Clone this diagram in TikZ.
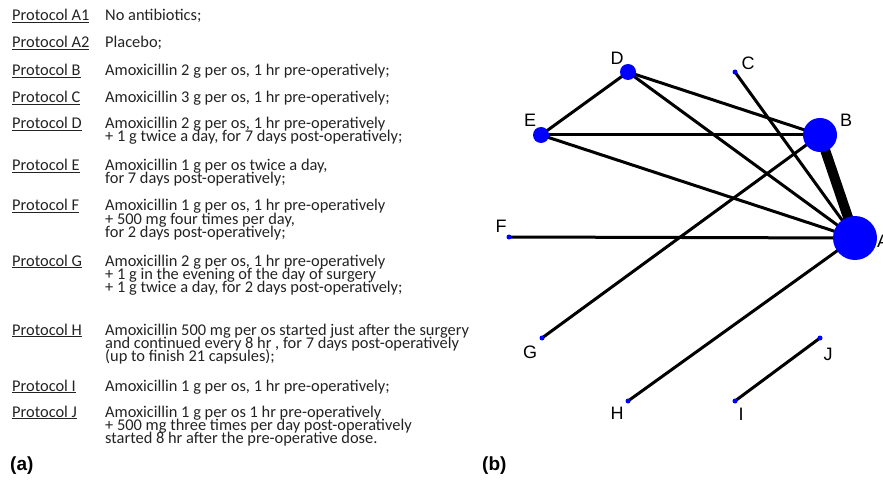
\documentclass[tikz,border=0pt]{standalone}
\usepackage{fontspec}
\setmainfont{Carlito}
\newfontfamily\arialf{Liberation Sans}
\definecolor{nodeblue}{RGB}{0,0,255}
\definecolor{txt}{RGB}{35,35,35}
\begin{document}
\begin{tikzpicture}[x=1pt,y=-1pt,
  prot/.style={anchor=base west,inner sep=0pt,text=txt,font=\fontsize{16.4}{18}\selectfont},
  desc/.style={anchor=base west,inner sep=0pt,text=txt,font=\fontsize{16.4}{18}\selectfont},
  glab/.style={inner sep=0pt,font=\arialf\fontsize{18}{20}\selectfont},
  panel/.style={anchor=base west,inner sep=0pt,font=\arialf\bfseries\fontsize{19}{21}\selectfont},
  vert/.style={circle,fill=nodeblue,inner sep=0pt},
  edge/.style={line width=3pt},
  bigedge/.style={line width=10pt}]
\useasboundingbox (0,0) rectangle (883,481);
% ---------- panel (a) ----------
\node[prot] (pA1) at (12,21) {\underline{Protocol A1}};
\node[desc] (dA1) at (105,21) {No antibiotics;};
\node[prot] (pA2) at (12,48) {\underline{Protocol A2}};
\node[desc] (dA2) at (105,48) {Placebo;};
\node[prot] (pB) at (12,76) {\underline{Protocol B}};
\node[desc] (dB) at (105,76) {Amoxicillin 2 g per os, 1 hr pre-operatively;};
\node[prot] (pC) at (12,103) {\underline{Protocol C}};
\node[desc] (dC) at (105,103) {Amoxicillin 3 g per os, 1 hr pre-operatively;};
\node[prot] (pD) at (12,129) {\underline{Protocol D}};
\node[desc] (dD1) at (105,129) {Amoxicillin 2 g per os, 1 hr pre-operatively};
\node[desc] (dD2) at (105,142) {+ 1 g twice a day, for 7 days post-operatively;};
\node[prot] (pE) at (12,171) {\underline{Protocol E}};
\node[desc] (dE1) at (105,171) {Amoxicillin 1 g per os twice a day,};
\node[desc] (dE2) at (105,184) {for 7 days post-operatively;};
\node[prot] (pF) at (12,211) {\underline{Protocol F}};
\node[desc] (dF1) at (105,211) {Amoxicillin 1 g per os, 1 hr pre-operatively};
\node[desc] (dF2) at (105,224) {+ 500 mg four times per day,};
\node[desc] (dF3) at (105,237) {for 2 days post-operatively;};
\node[prot] (pG) at (12,266) {\underline{Protocol G}};
\node[desc] (dG1) at (105,266) {Amoxicillin 2 g per os, 1 hr pre-operatively};
\node[desc] (dG2) at (105,279) {+ 1 g in the evening of the day of surgery};
\node[desc] (dG3) at (105,292) {+ 1 g twice a day, for 2 days post-operatively;};
\node[prot] (pH) at (12,335) {\underline{Protocol H}};
\node[desc] (dH1) at (105,335) {Amoxicillin 500 mg per os started just after the surgery};
\node[desc] (dH2) at (105,348) {and continued every 8 hr , for 7 days post-operatively};
\node[desc] (dH3) at (105,361) {(up to finish 21 capsules);};
\node[prot] (pI) at (12,391) {\underline{Protocol I}};
\node[desc] (dI) at (105,391) {Amoxicillin 1 g per os, 1 hr pre-operatively;};
\node[prot] (pJ) at (12,417) {\underline{Protocol J}};
\node[desc] (dJ1) at (105,417) {Amoxicillin 1 g per os 1 hr pre-operatively};
\node[desc] (dJ2) at (105,430) {+ 500 mg three times per day post-operatively};
\node[desc] (dJ3) at (105,443) {started 8 hr after the pre-operative dose.};
\node[panel] (pa) at (10,470) {(a)};
\node[panel] (pb) at (482,470) {(b)};
% ---------- panel (b) ----------
\coordinate (A) at (855,238);
\coordinate (B) at (820,135);
\coordinate (C) at (735,72);
\coordinate (D) at (628,72);
\coordinate (E) at (541,135);
\coordinate (F) at (509,237);
\coordinate (G) at (542,338);
\coordinate (H) at (628,401);
\coordinate (I) at (735,401);
\coordinate (J) at (820,338);
\draw[bigedge] (B) -- (A);
\draw[edge] (D) -- (E);
\draw[edge] (D) -- (B);
\draw[edge] (D) -- (A);
\draw[edge] (C) -- (A);
\draw[edge] (E) -- (B);
\draw[edge] (E) -- (A);
\draw[edge] (F) -- (A);
\draw[edge] (G) -- (B);
\draw[edge] (H) -- (A);
\draw[edge] (I) -- (J);
\node[vert,minimum size=44pt] (nA) at (A) {};
\node[vert,minimum size=34pt] (nB) at (B) {};
\node[vert,minimum size=5pt] (nC) at (C) {};
\node[vert,minimum size=16pt] (nD) at (D) {};
\node[vert,minimum size=16pt] (nE) at (E) {};
\node[vert,minimum size=5pt] (nF) at (F) {};
\node[vert,minimum size=5pt] (nG) at (G) {};
\node[vert,minimum size=5pt] (nH) at (H) {};
\node[vert,minimum size=5pt] (nI) at (I) {};
\node[vert,minimum size=5pt] (nJ) at (J) {};
\node[glab] (lA) at (883,241) {A};
\node[glab] (lB) at (846,120) {B};
\node[glab] (lC) at (748,63) {C};
\node[glab] (lD) at (617,58) {D};
\node[glab] (lE) at (530,120) {E};
\node[glab] (lF) at (501,226) {F};
\node[glab] (lG) at (530,352) {G};
\node[glab] (lH) at (617,413) {H};
\node[glab] (lI) at (741,414) {I};
\node[glab] (lJ) at (828,354) {J};
\end{tikzpicture}
\end{document}
